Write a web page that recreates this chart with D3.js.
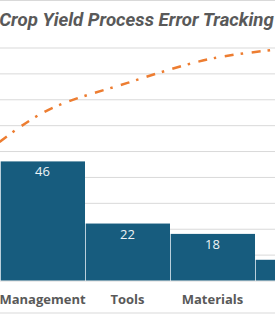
<!DOCTYPE html>
<html lang="en">
  <head>
    <meta charset="utf-8"/>
    <script src="https://d3js.org/d3.v7.min.js"></script>
    <title>Crop Yield Process Error Tracking</title>
  </head>
  <body>
    <div id="pareto_div">
      <svg id="pareto"></svg>
    </div>
  </body>
</html>

<style>
  body { margin: 0; background: #fff; }
  #pareto { display: block; }
</style>

<script>
  const width = 275;
  const height = 315;

  // data (chart is cropped on both sides)
  const categories = ["Soil & Water", "Management", "Tools", "Materials", "Labor"];
  const counts = [77, 46, 22, 18, 8];
  const gridTicks = [0, 10, 20, 30, 40, 50, 60, 70, 80, 90];
  const titleText = "Crop Yield Process Error Tracking";

  const total = d3.sum(counts);
  const cumPct = counts.map((d, i) => d3.sum(counts.slice(0, i + 1)) / total * 100);

  const svg = d3.select("#pareto")
    .attr("width", width)
    .attr("height", height);

  // chart frame (only top and bottom edge fall inside the view)
  svg.append("rect")
    .attr("x", -5).attr("y", 0.5)
    .attr("width", width + 10).attr("height", 312.5)
    .attr("fill", "none")
    .attr("stroke", "#d9d9d9")
    .attr("stroke-width", 1);

  // first band sits left of the view
  const xScale = d3.scaleBand()
    .domain(categories)
    .range([-85, -85 + 85 * categories.length])
    .padding(0);

  const yScale = d3.scaleLinear()
    .domain([0, 90])
    .range([280.5, 47.5]);

  // secondary (hidden) axis for the cumulative percentage
  const pctScale = d3.scaleLinear()
    .domain([0, 100])
    .range([280.5, 47.5]);

  // gridlines
  svg.append("g")
    .attr("class", "grid")
    .attr("transform", "translate(-10,0)")
    .call(d3.axisLeft(yScale).tickValues(gridTicks).tickSize(-(width + 20)).tickFormat(""))
    .call(g => g.select(".domain").remove())
    .call(g => g.selectAll("line").attr("stroke", "#d9d9d9").attr("stroke-width", 1));

  // bars (thin light seam on the left of each one)
  const bars = svg.append("g");

  bars.selectAll("rect.seam")
    .data(counts)
    .enter()
    .append("rect")
      .attr("class", "seam")
      .attr("x", (d, i) => xScale(categories[i]))
      .attr("y", d => yScale(d))
      .attr("width", 1)
      .attr("height", d => yScale(0) - yScale(d))
      .attr("fill", "#b9cfdb");

  bars.selectAll("rect.bar")
    .data(counts)
    .enter()
    .append("rect")
      .attr("class", "bar")
      .attr("x", (d, i) => xScale(categories[i]) + 1)
      .attr("y", d => yScale(d))
      .attr("width", xScale.bandwidth() - 1)
      .attr("height", d => yScale(0) - yScale(d))
      .attr("fill", "#175c7e");

  // value labels
  svg.append("g")
    .selectAll("text")
    .data(counts)
    .enter()
    .append("text")
      .attr("x", (d, i) => xScale(categories[i]) + xScale.bandwidth() / 2)
      .attr("y", d => yScale(d) + 15)
      .attr("text-anchor", "middle")
      .attr("font-family", "'Open Sans', sans-serif")
      .attr("font-size", 13)
      .attr("fill", "#eef3f6")
      .text(d => d);

  // category labels
  svg.append("g")
    .attr("transform", "translate(0," + yScale(0) + ")")
    .call(d3.axisBottom(xScale).tickSize(0).tickPadding(14))
    .call(g => g.select(".domain").remove())
    .call(g => g.selectAll("text")
      .attr("font-family", "'Open Sans', sans-serif")
      .attr("font-size", 13)
      .attr("font-weight", 700)
      .attr("fill", "#595959"));

  // cumulative line
  const line = d3.line()
    .x((d, i) => xScale(categories[i]) + xScale.bandwidth() / 2)
    .y(d => pctScale(d))
    .curve(d3.curveCatmullRom);

  svg.append("path")
    .datum(cumPct)
    .attr("d", line)
    .attr("fill", "none")
    .attr("stroke", "#ed7d31")
    .attr("stroke-width", 2.5)
    .attr("stroke-dasharray", "9,7,2.5,8.5");

  // title
  svg.append("text")
    .attr("x", 136.5)
    .attr("y", 26)
    .attr("text-anchor", "middle")
    .attr("font-family", "Roboto, sans-serif")
    .attr("font-size", 18.7)
    .attr("font-weight", "bold")
    .attr("font-style", "italic")
    .attr("fill", "#595959")
    .text(titleText);
</script>
